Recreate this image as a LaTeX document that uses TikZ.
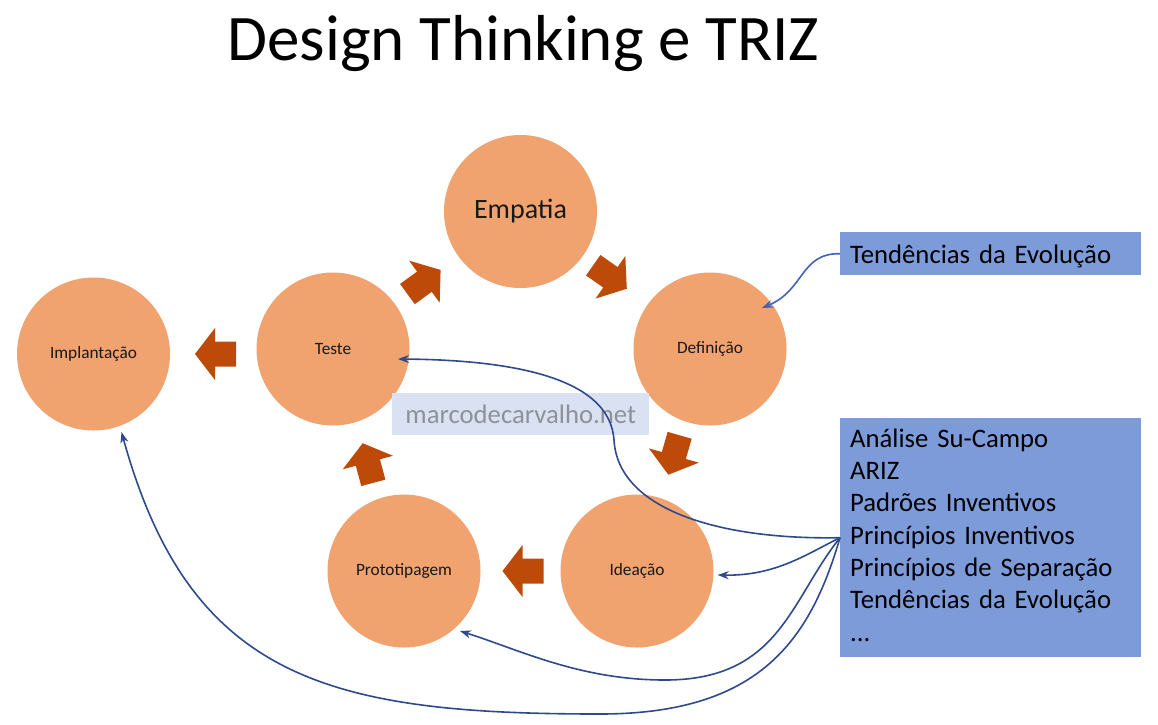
\documentclass[tikz,border=0pt]{standalone}
\usepackage{fontspec}
\setmainfont{Carlito}
\usepackage{tikz}
\usetikzlibrary{shapes, arrows.meta}
\definecolor{circulo}{RGB}{240,162,111}
\definecolor{bloco}{RGB}{189,74,8}
\definecolor{caixacor}{RGB}{124,155,216}
\definecolor{linha}{RGB}{46,74,140}
\definecolor{linhaclara}{RGB}{63,101,184}
\definecolor{marcacor}{RGB}{217,225,242}
\definecolor{marcatexto}{RGB}{140,146,152}

\begin{document}
\begin{tikzpicture}[x=1pt, y=-1pt,
                etapa/.style={circle, fill=circulo, minimum size=153pt, inner sep=0pt, text=black!90, font=\fontsize{17.3}{20}\selectfont},
                seta/.pic={\fill[bloco] (-20.5,-12.5) -- (0.5,-12.5) -- (0.5,-26) -- (20.5,0) -- (0.5,26) -- (0.5,12.5) -- (-20.5,12.5) -- cycle;},
                caixa/.style={fill=caixacor, anchor=north west, inner xsep=10pt, inner ysep=0pt, text width=281pt, align=left, font=\fontsize{26.7}{32.3}\selectfont},
                liga/.style={draw=linha, line width=1.6pt, -{Stealth[length=11pt, width=8pt]}}]
                \path[fill=white, use as bounding box] (0,0) rectangle (1158,724);
                \node[font=\fontsize{65}{78}\selectfont, anchor=base] (Titulo) at (523.5,60) {Design Thinking e TRIZ};
                \node[etapa, font=\fontsize{28}{34}\selectfont] (Empatia) at (520.5,211.5) {Empatia};
                \node[etapa] (Teste) at (333,349) {Teste};
                \node[etapa] (Definicao) at (710,349) {Definição};
                \node[etapa] (Implantacao) at (93.5,354) {Implantação};
                \node[etapa] (Prototipagem) at (404,571) {Prototipagem};
                \node[etapa] (Ideacao) at (637,571) {Ideação};
                \pic[rotate=180] (seta1) at (215.5,354) {seta};
                \pic[rotate=36] (seta2) at (424,282) {seta};
                \pic[rotate=-35] (seta3) at (610,277) {seta};
                \pic[rotate=-106] (seta4) at (674,455) {seta};
                \pic[rotate=180] (seta5) at (523,571) {seta};
                \pic[rotate=105] (seta6) at (368,463) {seta};
                \node[fill=marcacor, text=marcatexto, anchor=north west, minimum width=257pt, inner sep=0pt, text height=30pt, text depth=12pt, font=\fontsize{26.7}{32}\selectfont] (marca) at (392,393) {marcodecarvalho.net};
                \node[caixa, text height=31pt, text depth=12pt] (Tendencias) at (840,232) {Tendências da Evolução};
                \node[caixa, text height=29pt, text depth=210pt] (Ferramentas) at (840,418) {Análise Su-Campo\\ARIZ\\Padrões Inventivos\\Princípios Inventivos\\Princípios de Separação\\Tendências da Evolução\\...};
                \draw[liga, draw=linhaclara] (Tendencias.west) .. controls (800,253) and (805,290) .. ([shift={(52,-41)}]Definicao.center);
                \draw[liga] (Ferramentas.west) .. controls (720,540) and (618,510) .. (614,440) .. controls (610,380) and (520,360) .. ([shift={(65,10)}]Teste.center);
                \draw[liga] (Ferramentas.west) .. controls (805,555) and (775,576) .. ([shift={(4,4)}]Ideacao.east);
                \draw[liga] (Ferramentas.west) .. controls (790,600) and (780,680) .. (665,680) .. controls (580,680) and (520,650) .. ([shift={(56,60)}]Prototipagem.center);
                \draw[liga] (Ferramentas.west) .. controls (810,640) and (760,714) .. (600,714) .. controls (330,714) and (190,680) .. ([shift={(28,78)}]Implantacao.center);
            \end{tikzpicture}
\end{document}
